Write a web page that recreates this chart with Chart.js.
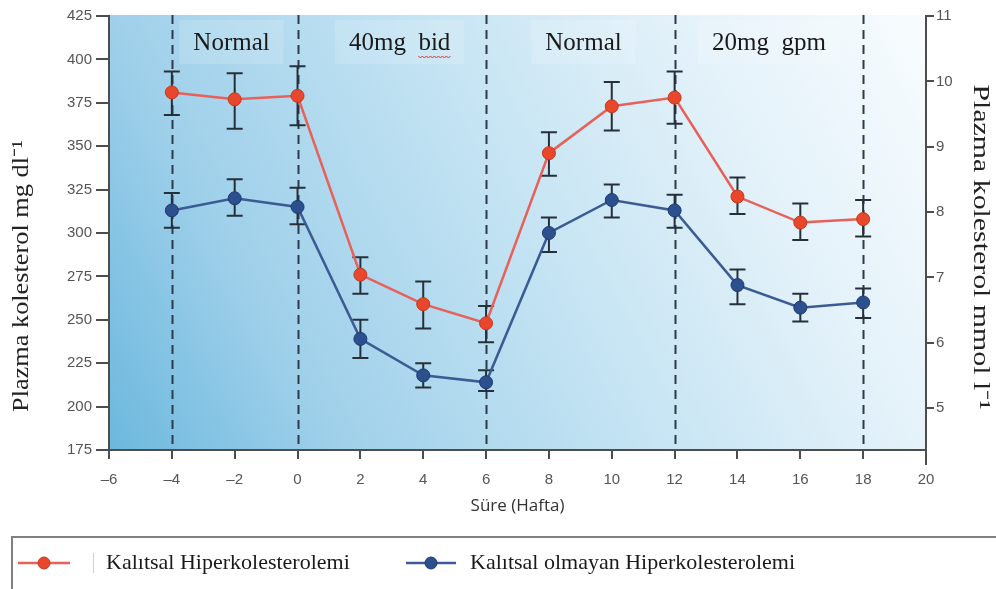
<!DOCTYPE html>
<html><head><meta charset="utf-8">
<script src="https://cdn.jsdelivr.net/npm/chart.js@4.4.1/dist/chart.umd.min.js"></script>
<style>html,body{margin:0;padding:0;background:#fff;}canvas{display:block;}</style>
</head><body>
<canvas id="c" width="996" height="589"></canvas>
<script>
// ---- data ----
const weeks = [-4, -2, 0, 2, 4, 6, 8, 10, 12, 14, 16, 18];
const familial     = [381, 377, 379, 276, 259, 248, 346, 373, 378, 321, 306, 308];
const familialHigh = [393, 392, 396, 286, 272, 258, 358, 387, 393, 332, 317, 319];
const familialLow  = [368, 360, 362, 265, 245, 237, 333, 359, 363, 311, 296, 298];
const nonFamilial     = [313, 320, 315, 239, 218, 214, 300, 319, 313, 270, 257, 260];
const nonFamilialHigh = [323, 331, 326, 250, 225, 221, 309, 328, 322, 279, 265, 268];
const nonFamilialLow  = [303, 310, 305, 228, 211, 209, 289, 309, 303, 259, 249, 251];
const phaseBounds = [-4, 0, 6, 12, 18];
const phaseLabels = ['Normal', '40mg  bid', 'Normal', '20mg  gpm'];
const phaseLabelX = [-2.1, 3.25, 9.1, 15];
const xTicks = [-6, -4, -2, 0, 2, 4, 6, 8, 10, 12, 14, 16, 18, 20];
const mgTicks = [175, 200, 225, 250, 275, 300, 325, 350, 375, 400, 425];
const mmolTicks = [5, 6, 7, 8, 9, 10, 11];
const seriesNames = ['Kalıtsal Hiperkolesterolemi', 'Kalıtsal olmayan Hiperkolesterolemi'];
const xTitle = 'Süre (Hafta)';
const yTitleLeft = 'Plazma kolesterol mg dl⁻¹';
const yTitleRight = 'Plazma kolesterol mmol l⁻¹';

const RED_LINE = '#e8605a', RED_PT = '#e8472c', RED_PT_B = '#c23a22';
const BLUE_LINE = '#3b5b94', BLUE_PT = '#2c4f8e', BLUE_PT_B = '#1f3a6e';
const AXIS = '#4d4d4d';
const SERIF = '"Liberation Serif", "Times New Roman", serif';

function drawStretched(ctx, text, cx, cy, rot, target) {
  ctx.save();
  ctx.translate(cx, cy); ctx.rotate(rot);
  const w = ctx.measureText(text).width;
  ctx.scale(target / w, 1);
  ctx.fillText(text, 0, 0);
  ctx.restore();
}

const bgPlugin = {
  id: 'bg',
  beforeDraw(chart) {
    const {ctx, chartArea: a} = chart;
    ctx.save();
    const g = ctx.createLinearGradient(a.left, a.bottom, a.right, a.top);
    g.addColorStop(0, '#6cb8de');
    g.addColorStop(0.22, '#9fd0ea');
    g.addColorStop(0.5, '#c3e3f3');
    g.addColorStop(0.75, '#e2f1f9');
    g.addColorStop(1, '#f8fcfe');
    ctx.fillStyle = g;
    ctx.fillRect(a.left, a.top - 1, a.right - a.left, a.bottom - a.top + 1);
    ctx.restore();
  },
  beforeDatasetsDraw(chart) {
    const {ctx, chartArea: a, scales: {x, y}} = chart;
    ctx.save();
    ctx.font = '25px ' + SERIF;
    ctx.textAlign = 'center';
    ctx.textBaseline = 'alphabetic';
    phaseLabels.forEach((t, i) => {
      const cx = x.getPixelForValue(phaseLabelX[i]);
      const w = ctx.measureText(t).width;
      ctx.fillStyle = 'rgba(255,255,255,0.15)';
      ctx.fillRect(cx - w / 2 - 14, a.top + 4, w + 28, 44);
    });
    ctx.strokeStyle = '#2c3a4a';
    ctx.lineWidth = 2;
    ctx.setLineDash([9, 6]);
    phaseBounds.forEach(v => {
      const px = Math.round(x.getPixelForValue(v)) + 0.5;
      ctx.beginPath(); ctx.moveTo(px, a.top - 1); ctx.lineTo(px, a.bottom); ctx.stroke();
    });
    ctx.setLineDash([]);
    ctx.fillStyle = '#1a1a1a';
    phaseLabels.forEach((t, i) => {
      const cx = x.getPixelForValue(phaseLabelX[i]);
      ctx.fillText(t, cx, a.top + 34);
      if (t.indexOf('bid') >= 0) {
        const w = ctx.measureText(t).width;
        const wb = ctx.measureText('bid').width;
        const sx = cx + w / 2 - wb, ex = cx + w / 2, yy = a.top + 40;
        ctx.strokeStyle = '#e03030'; ctx.lineWidth = 1;
        ctx.beginPath(); ctx.moveTo(sx, yy);
        for (let p = sx, k = 0; p < ex; p += 2, k++) ctx.lineTo(p + 2, yy + (k % 2 ? 0 : 2));
        ctx.stroke();
      }
    });
    ctx.strokeStyle = '#26303a';
    ctx.lineWidth = 2;
    [[familialHigh, familialLow], [nonFamilialHigh, nonFamilialLow]].forEach(([hi, lo]) => {
      weeks.forEach((w, i) => {
        const px = x.getPixelForValue(w), y1 = y.getPixelForValue(hi[i]), y2 = y.getPixelForValue(lo[i]);
        ctx.beginPath();
        ctx.moveTo(px, y1); ctx.lineTo(px, y2);
        ctx.moveTo(px - 8, y1); ctx.lineTo(px + 8, y1);
        ctx.moveTo(px - 8, y2); ctx.lineTo(px + 8, y2);
        ctx.stroke();
      });
    });
    ctx.restore();
  },
  afterDraw(chart) {
    const {ctx, chartArea: a} = chart;
    ctx.save();
    ctx.strokeStyle = AXIS; ctx.lineWidth = 2;
    ctx.beginPath();
    ctx.moveTo(a.left, a.bottom); ctx.lineTo(a.left, a.bottom + 8);
    ctx.moveTo(a.right, a.bottom); ctx.lineTo(a.right, a.bottom + 15);
    ctx.stroke();
    // y titles
    ctx.fillStyle = '#222';
    ctx.font = '23px ' + SERIF;
    ctx.textAlign = 'center'; ctx.textBaseline = 'middle';
    drawStretched(ctx, yTitleLeft, 22, 276, -Math.PI / 2, 272);
    drawStretched(ctx, yTitleRight, 980, 247, Math.PI / 2, 325);
    // legend
    ctx.strokeStyle = '#808080'; ctx.lineWidth = 2;
    ctx.strokeRect(12, 537, 990, 60);
    ctx.strokeStyle = '#d0d0d0'; ctx.lineWidth = 1;
    ctx.beginPath(); ctx.moveTo(93.5, 553); ctx.lineTo(93.5, 573); ctx.stroke();
    const items = [
      {x0: 18, x1: 70, m: 44, tx: 106, line: RED_LINE, pt: RED_PT, pb: RED_PT_B, t: seriesNames[0]},
      {x0: 406, x1: 456, m: 431, tx: 470, line: BLUE_LINE, pt: BLUE_PT, pb: BLUE_PT_B, t: seriesNames[1]}
    ];
    const ly = 563;
    items.forEach(it => {
      ctx.strokeStyle = it.line; ctx.lineWidth = 2.5;
      ctx.beginPath(); ctx.moveTo(it.x0, ly); ctx.lineTo(it.x1, ly); ctx.stroke();
      ctx.fillStyle = it.pt; ctx.strokeStyle = it.pb; ctx.lineWidth = 1;
      ctx.beginPath(); ctx.arc(it.m, ly, 6, 0, Math.PI * 2); ctx.fill(); ctx.stroke();
      ctx.fillStyle = '#1a1a1a';
      ctx.font = '22px ' + SERIF;
      ctx.textAlign = 'left'; ctx.textBaseline = 'middle';
      ctx.fillText(it.t, it.tx, ly);
    });
    ctx.restore();
  }
};

const mk = (vals) => weeks.map((w, i) => ({x: w, y: vals[i]}));

new Chart(document.getElementById('c'), {
  type: 'line',
  data: {
    datasets: [
      {label: seriesNames[0], data: mk(familial), borderColor: RED_LINE, borderWidth: 2.5,
       pointBackgroundColor: RED_PT, pointBorderColor: RED_PT_B, pointBorderWidth: 1, pointRadius: 6.5, tension: 0},
      {label: seriesNames[1], data: mk(nonFamilial), borderColor: BLUE_LINE, borderWidth: 2.5,
       pointBackgroundColor: BLUE_PT, pointBorderColor: BLUE_PT_B, pointBorderWidth: 1, pointRadius: 6.5, tension: 0}
    ]
  },
  options: {
    responsive: false,
    animation: false,
    devicePixelRatio: 1,
    layout: {padding: {top: 16, left: 0, right: 0, bottom: 73}},
    plugins: {legend: {display: false}, tooltip: {enabled: false}},
    scales: {
      x: {
        type: 'linear', min: -6, max: 20,
        afterBuildTicks: s => { s.ticks = xTicks.map(v => ({value: v})); },
        afterFit: s => { s.height = 66; },
        grid: {drawOnChartArea: false, drawTicks: true, tickLength: 9, color: AXIS, lineWidth: 2},
        border: {display: true, color: AXIS, width: 2},
        ticks: {color: '#555', font: {family: '"Liberation Sans", Arial, sans-serif', size: 15}, padding: 12,
                callback: v => (v < 0 ? '–' + Math.abs(v) : String(v)), maxRotation: 0, autoSkip: false},
        title: {display: true, text: xTitle, color: '#333', font: {family: '"Open Sans", sans-serif', size: 17}, padding: 0}
      },
      y: {
        type: 'linear', position: 'left', min: 175, max: 425,
        afterBuildTicks: s => { s.ticks = mgTicks.map(v => ({value: v})); },
        afterFit: s => { s.width = 109; },
        grid: {drawOnChartArea: false, drawTicks: true, tickLength: 13, color: AXIS, lineWidth: 2},
        border: {display: true, color: AXIS, width: 2},
        ticks: {color: '#555', font: {family: '"Liberation Sans", Arial, sans-serif', size: 15}, padding: 4}
      },
      y2: {
        type: 'linear', position: 'right', min: 4.36, max: 11,
        afterBuildTicks: s => { s.ticks = mmolTicks.map(v => ({value: v})); },
        afterFit: s => { s.width = 70; },
        grid: {drawOnChartArea: false, drawTicks: true, tickLength: 8, color: AXIS, lineWidth: 2},
        border: {display: true, color: AXIS, width: 2},
        ticks: {color: '#555', font: {family: '"Liberation Sans", Arial, sans-serif', size: 15}, padding: 2}
      }
    }
  },
  plugins: [bgPlugin]
});
</script>
</body></html>
